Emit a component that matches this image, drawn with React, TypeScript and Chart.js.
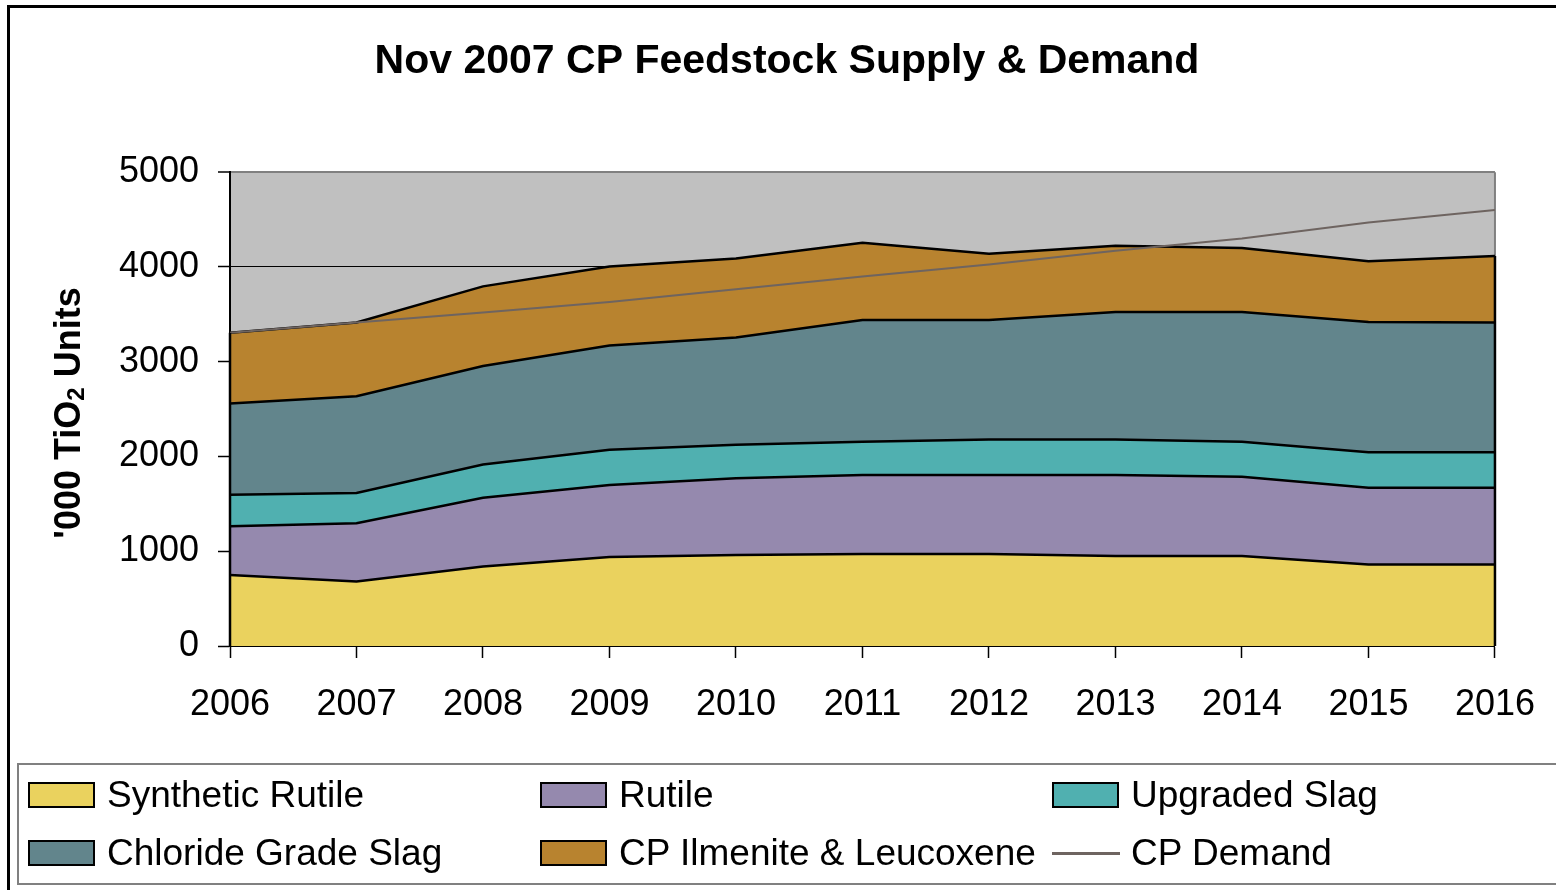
import React, { useEffect, useRef } from "react";
import { Chart, registerables } from "chart.js";

Chart.register(...registerables);

// ---------- data ----------
const years = ["2006", "2007", "2008", "2009", "2010", "2011", "2012", "2013", "2014", "2015", "2016"];
const syntheticRutile = [750, 680, 840, 940, 960, 970, 970, 950, 950, 860, 860];
const rutile = [515, 615, 725, 760, 810, 835, 835, 855, 835, 810, 810];
const upgradedSlag = [330, 320, 350, 370, 355, 350, 375, 375, 370, 375, 375];
const chlorideGradeSlag = [965, 1020, 1040, 1100, 1130, 1285, 1260, 1345, 1370, 1375, 1370];
const cpIlmeniteLeucoxene = [745, 780, 840, 835, 835, 815, 700, 700, 675, 640, 700];
const cpDemand = [3305, 3415, 3520, 3630, 3765, 3900, 4025, 4170, 4300, 4470, 4600];
const yTickValues = [0, 1000, 2000, 3000, 4000, 5000];

const seriesNames = ["Synthetic Rutile", "Rutile", "Upgraded Slag", "Chloride Grade Slag", "CP Ilmenite & Leucoxene"];
const seriesColors = ["#EAD25E", "#9589AE", "#50B0B0", "#62858C", "#B8832F"];
const demandName = "CP Demand";
const demandColor = "#6E6460";
const titleText = "Nov 2007 CP Feedstock Supply & Demand";

const FONT = "'Liberation Sans', Arial, sans-serif";

const plotDecor = {
  id: "plotDecor",
  beforeDraw(chart: any) {
    const { ctx, chartArea: a } = chart;
    ctx.save();
    ctx.fillStyle = "#C0C0C0";
    ctx.fillRect(a.left, a.top, a.right - a.left, a.bottom - a.top);
    ctx.strokeStyle = "#808080";
    ctx.lineWidth = 2;
    ctx.beginPath();
    ctx.moveTo(a.right, a.bottom);
    ctx.lineTo(a.right, a.top);
    ctx.stroke();
    ctx.restore();
  },
  afterDatasetsDraw(chart: any) {
    const { ctx } = chart;
    const xs = chart.scales.x;
    const ys = chart.scales.y;
    const series = [syntheticRutile, rutile, upgradedSlag, chlorideGradeSlag, cpIlmeniteLeucoxene];
    const last = years.length - 1;
    const totalAt = (i: number) => series.reduce((s, arr) => s + arr[i], 0);
    ctx.save();
    ctx.strokeStyle = "#000";
    ctx.lineWidth = 2.5;
    [0, last].forEach((i) => {
      const px = xs.getPixelForValue(i);
      ctx.beginPath();
      ctx.moveTo(px, ys.getPixelForValue(0));
      ctx.lineTo(px, ys.getPixelForValue(totalAt(i)));
      ctx.stroke();
    });
    ctx.restore();
  },
};

export default function App() {
  const canvasRef = useRef<HTMLCanvasElement | null>(null);

  useEffect(() => {
    if (!canvasRef.current) return;
    const supplySeries = [syntheticRutile, rutile, upgradedSlag, chlorideGradeSlag, cpIlmeniteLeucoxene];
    const datasets: any[] = supplySeries.map((vals, i) => ({
      label: seriesNames[i],
      data: vals,
      backgroundColor: seriesColors[i],
      borderColor: "#000",
      borderWidth: 2.5,
      pointRadius: 0,
      tension: 0,
      fill: i === 0 ? "origin" : "-1",
      stack: "supply",
      order: 0,
    }));
    datasets.push({
      label: demandName,
      data: cpDemand,
      borderColor: demandColor,
      backgroundColor: demandColor,
      borderWidth: 2,
      pointRadius: 0,
      tension: 0,
      fill: false,
      stack: "demand",
      order: -1,
    });

    const chart = new Chart(canvasRef.current, {
      type: "line",
      data: { labels: years, datasets },
      options: {
        animation: false,
        responsive: false,
        devicePixelRatio: 1,
        layout: { padding: { left: 79, right: 65, top: 0, bottom: 14 } },
        plugins: {
          legend: { display: false },
          tooltip: { enabled: false },
          title: {
            display: true,
            text: titleText,
            color: "#000",
            font: { family: FONT, size: 41, weight: "bold" },
            padding: { top: 37, bottom: 86 },
          },
        },
        scales: {
          x: {
            offset: false,
            grid: {
              drawOnChartArea: false,
              drawTicks: true,
              tickLength: 12,
              tickColor: "#000",
              tickWidth: 1.5,
            },
            border: { color: "#000", width: 2 },
            ticks: {
              color: "#000",
              font: { family: FONT, size: 36 },
              padding: 25,
              maxRotation: 0,
              autoSkip: false,
            },
            afterFit: (s: any) => {
              s.height = 100;
            },
          },
          y: {
            stacked: true,
            min: 0,
            max: 5000,
            afterBuildTicks: (s: any) => {
              s.ticks = yTickValues.map((v) => ({ value: v }));
            },
            grid: {
              color: (c: any) => (c.tick && c.tick.value === 5000 ? "#808080" : "#000"),
              lineWidth: (c: any) => (c.tick && c.tick.value === 5000 ? 2 : 1),
              tickLength: 12,
              tickColor: "#000",
              tickWidth: 1.5,
            },
            border: { color: "#000", width: 2 },
            ticks: {
              color: "#000",
              font: { family: FONT, size: 36 },
              padding: 19,
              callback: (v: any) => String(v),
            },
            afterFit: (s: any) => {
              s.width = 151;
            },
          },
        },
      },
      plugins: [plotDecor],
    } as any);
    return () => chart.destroy();
  }, []);

  const legendRows = [
    [
      { kind: "box", idx: 0, left: 28, text: seriesNames[0] },
      { kind: "box", idx: 1, left: 540, text: seriesNames[1] },
      { kind: "box", idx: 2, left: 1052, text: seriesNames[2] },
    ],
    [
      { kind: "box", idx: 3, left: 28, text: seriesNames[3] },
      { kind: "box", idx: 4, left: 540, text: seriesNames[4] },
      { kind: "line", idx: -1, left: 1052, text: demandName },
    ],
  ];
  const rowCenters = [795, 853];

  return (
    <div
      style={{
        position: "fixed",
        left: 0,
        top: 0,
        width: 1556,
        height: 890,
        overflow: "hidden",
        background: "#fff",
        fontFamily: FONT,
      }}
    >
      <canvas
        ref={canvasRef}
        width={1560}
        height={760}
        style={{ position: "absolute", left: 0, top: 0, width: 1560, height: 760 }}
      />
      <div
        style={{
          position: "absolute",
          left: 7,
          top: 5,
          width: 1700,
          height: 1000,
          border: "3px solid #000",
          boxSizing: "border-box",
          pointerEvents: "none",
        }}
      />
      <div
        style={{
          position: "absolute",
          left: 72,
          top: 413,
          transform: "translate(-50%, -50%) rotate(-90deg)",
          whiteSpace: "nowrap",
          fontWeight: "bold",
          fontSize: 36,
          lineHeight: "40px",
          color: "#000",
        }}
      >
        '000 TiO<span style={{ fontSize: 24, verticalAlign: "-4px" }}>2</span> Units
      </div>
      <div
        style={{
          position: "absolute",
          left: 17,
          top: 763,
          width: 1700,
          height: 122,
          border: "2px solid #808080",
          boxSizing: "border-box",
        }}
      />
      {legendRows.map((row, r) =>
        row.map((item, c) => (
          <React.Fragment key={`${r}-${c}`}>
            {item.kind === "box" ? (
              <div
                style={{
                  position: "absolute",
                  left: item.left,
                  top: rowCenters[r] - 13,
                  width: 67,
                  height: 26,
                  background: seriesColors[item.idx],
                  border: "2px solid #000",
                  boxSizing: "border-box",
                }}
              />
            ) : (
              <div
                style={{
                  position: "absolute",
                  left: item.left,
                  top: rowCenters[r] - 1,
                  width: 68,
                  height: 3,
                  background: demandColor,
                }}
              />
            )}
            <div
              style={{
                position: "absolute",
                left: item.left + 79,
                top: rowCenters[r] - 20,
                fontSize: 37,
                lineHeight: "40px",
                whiteSpace: "nowrap",
                color: "#000",
              }}
            >
              {item.text}
            </div>
          </React.Fragment>
        ))
      )}
    </div>
  );
}
